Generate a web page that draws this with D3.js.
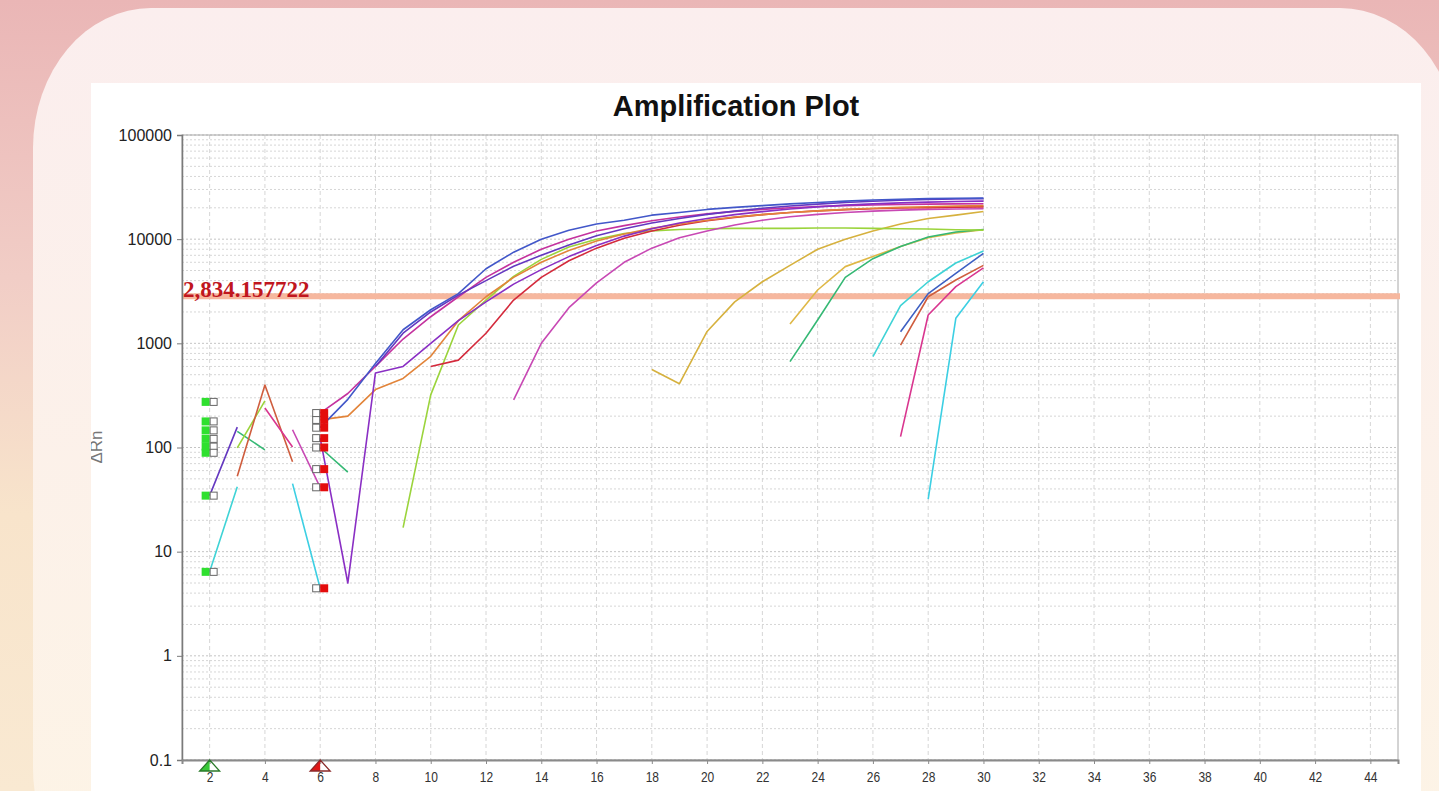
<!DOCTYPE html>
<html>
<head>
<meta charset="utf-8">
<script src="https://cdn.jsdelivr.net/npm/d3@7"></script>
<style>
    html, body { margin: 0; padding: 0; overflow: hidden; }
    svg { display: block; }
    .ytick text { font: 16px "Liberation Sans", Arial, sans-serif; fill: #222; }
    .xtick text { font: 15px "Liberation Sans", Arial, sans-serif; fill: #333; }
    .title { font: bold 29px "Liberation Sans", Arial, sans-serif; fill: #111; }
</style>
</head>
<body>
<script>

    // cycles 2..30, null = no positive value (not drawn on log scale)
    var cycles = [2,3,4,5,6,7,8,9,10,11,12,13,14,15,16,17,18,19,20,21,22,23,24,25,26,27,28,29,30];

    var wellBlue   = [274,null,null,null,155,290,640,1350,2100,3000,5200,7500,10000,12200,14000,15200,17000,18000,19300,20200,21000,21800,22500,23200,23800,24200,24500,24700,24800];
    var wellViolet = [34.5,157,null,null,null,null,600,1250,2000,2900,4000,5500,7000,8800,10800,12600,14300,15800,17300,18600,19800,20800,21700,22500,23100,23600,24000,24300,24500];
    var wellPurple = [146,null,null,null,123,5,520,600,1000,1650,2500,3700,5100,6800,8700,10700,12600,14300,15800,17200,18400,19500,20400,21200,21800,22300,22700,23000,23200];
    var wellOrange = [178,null,null,null,184,200,360,460,750,1650,2800,4300,6000,7800,9600,11200,12700,14000,15200,16300,17200,18000,18700,19300,19800,20200,20500,20800,21000];
    var wellRed    = [121,null,null,null,null,null,null,null,600,690,1250,2600,4300,6200,8200,10200,12000,13600,15000,16200,17200,18000,18700,19200,19600,19900,20100,20300,20400];
    var wellMagenta= [null,null,null,null,214,330,600,1100,1800,2800,4300,6000,8000,10000,12000,13500,15000,16300,17500,18500,19300,20000,20600,21000,21300,21500,21700,21800,21900];
    var wellLime   = [null,99,280,null,null,null,null,17,320,1500,2600,4400,6400,8400,10000,11300,12000,12400,12600,12700,12700,12700,12800,12800,12700,12600,12500,12300,12200];
    var wellTeal   = [null,143,95,null,100,58,null,null,null,null,null,null,null,null,null,null,null,null,null,null,null,667,1675,4300,6500,8500,10500,11700,12400];
    var wellGold   = [null,null,null,null,62,null,null,null,null,null,null,null,null,null,null,null,560,410,1300,2500,3900,5600,8000,10000,12000,14000,15800,17000,18400];
    var wellAmber  = [102,null,null,null,null,null,null,null,null,null,null,null,null,null,null,null,null,null,null,null,null,1535,3250,5450,6800,8500,10300,11500,12300];
    var wellPink   = [null,null,null,148,41.5,null,null,null,null,null,null,286,1000,2200,3800,6000,8200,10300,12000,13700,15200,16400,17300,18000,18600,19000,19300,19500,19600];
    var wellCyan   = [6.4,42,null,null,null,null,null,null,null,null,null,null,null,null,null,null,null,null,null,null,null,null,null,null,745,2300,3900,5900,7700];
    var wellNavy   = [null,null,null,null,null,null,null,null,null,null,null,null,null,null,null,null,null,null,null,null,null,null,null,null,null,1290,3000,4700,7300];
    var wellBrick  = [null,53,398,73,null,null,null,null,null,null,null,null,null,null,null,null,null,null,null,null,null,null,null,null,null,960,2800,4050,5600];
    var wellRose   = [89,null,239,101,null,null,null,null,null,null,null,null,null,null,null,null,null,null,null,null,null,null,null,null,null,127,1870,3500,5300];
    var wellAqua   = [null,null,null,45,4.45,null,null,null,null,null,null,null,null,null,null,null,null,null,null,null,null,null,null,null,null,null,32,1740,3900];

    var xTicks = [2,4,6,8,10,12,14,16,18,20,22,24,26,28,30,32,34,36,38,40,42,44];
    var yTicks = [0.1,1,10,100,1000,10000,100000];
    var yTickLabels = ["0.1","1","10","100","1000","10000","100000"];

    var threshold = 2834.157722;
    var baselineStart = 2, baselineEnd = 6;

    var series = [
        {name: "gold",    color: "#d6b13e", values: wellGold},
        {name: "amber",   color: "#dfb846", values: wellAmber},
        {name: "teal",    color: "#35b874", values: wellTeal},
        {name: "lime",    color: "#9bd43c", values: wellLime},
        {name: "cyan",    color: "#3fd3d6", values: wellCyan},
        {name: "aqua",    color: "#3ccfe3", values: wellAqua},
        {name: "navy",    color: "#3d5fc2", values: wellNavy},
        {name: "brick",   color: "#cf5d3e", values: wellBrick},
        {name: "rose",    color: "#d9368f", values: wellRose},
        {name: "pink",    color: "#c848b4", values: wellPink},
        {name: "red",     color: "#d42a3c", values: wellRed},
        {name: "orange",  color: "#e2843a", values: wellOrange},
        {name: "magenta", color: "#c4329e", values: wellMagenta},
        {name: "purple",  color: "#8a2fc4", values: wellPurple},
        {name: "violet",  color: "#6438c0", values: wellViolet},
        {name: "blue",    color: "#4257c9", values: wellBlue}
    ];

    var width = 1439, height = 791;
    var plotLeft = 182, plotRight = 1398, plotTop = 135, plotBottom = 760;

    var svg = d3.select("body").append("svg")
        .attr("width", width)
        .attr("height", height);

    var defs = svg.append("defs");

    var bgGrad = defs.append("linearGradient").attr("id", "bg")
        .attr("x1", 0).attr("y1", 0).attr("x2", 0).attr("y2", 1);
    bgGrad.append("stop").attr("offset", "0%").attr("stop-color", "#eab6b6");
    bgGrad.append("stop").attr("offset", "35%").attr("stop-color", "#f1cdc6");
    bgGrad.append("stop").attr("offset", "65%").attr("stop-color", "#f8e4cb");
    bgGrad.append("stop").attr("offset", "100%").attr("stop-color", "#f9e9d2");

    var cardGrad = defs.append("linearGradient").attr("id", "card")
        .attr("x1", 0).attr("y1", 0).attr("x2", 0).attr("y2", 1);
    cardGrad.append("stop").attr("offset", "0%").attr("stop-color", "#fbeeee");
    cardGrad.append("stop").attr("offset", "100%").attr("stop-color", "#fdf4e5");

    defs.append("clipPath").attr("id", "imgclip")
        .append("rect").attr("x", 91).attr("y", 83).attr("width", 1330).attr("height", 708);

    defs.append("clipPath").attr("id", "plotclip")
        .append("rect").attr("x", plotLeft).attr("y", plotTop)
        .attr("width", plotRight - plotLeft).attr("height", plotBottom - plotTop);

    // page background and card
    svg.append("rect").attr("width", width).attr("height", height).attr("fill", "url(#bg)");
    svg.append("rect")
        .attr("x", 33).attr("y", 8).attr("width", 1425).attr("height", 900)
        .attr("rx", 118).attr("ry", 140)
        .attr("fill", "url(#card)");

    var chart = svg.append("g").attr("clip-path", "url(#imgclip)");
    chart.append("rect").attr("x", 91).attr("y", 83).attr("width", 1330).attr("height", 708).attr("fill", "#fff");

    var x = d3.scaleLinear().domain([1, 45]).range([plotLeft, plotRight]);
    var y = d3.scaleLog().domain([0.1, 100000]).range([plotBottom, plotTop]);

    // grid
    var grid = chart.append("g");
    grid.selectAll("line.hg")
      .data(y.ticks())
      .enter().append("line")
      .attr("x1", plotLeft).attr("x2", plotRight)
      .attr("y1", function(d) { return y(d); })
      .attr("y2", function(d) { return y(d); })
      .attr("stroke", function(d) { return yTicks.indexOf(d) >= 0 ? "#c4c4c4" : "#d6d6d6"; })
      .attr("stroke-dasharray", "2,2");

    grid.selectAll("line.vg")
      .data(xTicks)
      .enter().append("line")
      .attr("x1", function(d) { return x(d); })
      .attr("x2", function(d) { return x(d); })
      .attr("y1", plotTop).attr("y2", plotBottom)
      .attr("stroke", "#d6d6d6")
      .attr("stroke-dasharray", "4,3");

    // frame
    chart.append("rect")
        .attr("x", plotLeft).attr("y", plotTop)
        .attr("width", plotRight - plotLeft).attr("height", plotBottom - plotTop)
        .attr("fill", "none").attr("stroke", "#a8a8a8").attr("stroke-width", 1);

    // threshold
    chart.append("line")
        .attr("x1", plotLeft).attr("x2", plotRight + 2)
        .attr("y1", y(threshold)).attr("y2", y(threshold))
        .attr("stroke", "#f6b79e").attr("stroke-width", 6);

    // curves
    var line = d3.line()
        .defined(function(d) { return d.v != null && d.v > 0; })
        .x(function(d) { return x(d.c); })
        .y(function(d) { return y(d.v); });

    chart.append("g").attr("clip-path", "url(#plotclip)")
      .selectAll("path")
      .data(series)
      .enter().append("path")
      .attr("d", function(s) { return line(s.values.map(function(v, i) { return {c: cycles[i], v: v}; })); })
      .attr("fill", "none")
      .attr("stroke", function(s) { return s.color; })
      .attr("stroke-width", 1.6)
      .attr("stroke-linejoin", "round");

    // baseline start / end markers
    var sq = 8;
    var marks = chart.append("g");
    series.forEach(function(s) {
        var v0 = s.values[cycles.indexOf(baselineStart)];
        if (v0 != null) {
            var cx = x(baselineStart), cy = y(v0);
            marks.append("rect").attr("x", cx - sq).attr("y", cy - sq / 2).attr("width", sq).attr("height", sq).attr("fill", "#2fe02f");
            marks.append("rect").attr("x", cx + 0.5).attr("y", cy - sq / 2 + 0.5).attr("width", sq - 1).attr("height", sq - 1)
                .attr("fill", "#fff").attr("stroke", "#666").attr("stroke-width", 1);
        }
        var v1 = s.values[cycles.indexOf(baselineEnd)];
        if (v1 != null) {
            var ex = x(baselineEnd), ey = y(v1);
            marks.append("rect").attr("x", ex - sq + 0.5).attr("y", ey - sq / 2 + 0.5).attr("width", sq - 1).attr("height", sq - 1)
                .attr("fill", "#fff").attr("stroke", "#666").attr("stroke-width", 1);
            marks.append("rect").attr("x", ex).attr("y", ey - sq / 2).attr("width", sq).attr("height", sq).attr("fill", "#e40c0c");
        }
    });

    // axes
    var yAxis = d3.axisLeft(y)
        .tickValues(yTicks)
        .tickFormat(function(d, i) { return yTickLabels[i]; })
        .tickSize(5).tickPadding(5);

    var gy = chart.append("g").attr("class", "ytick")
        .attr("transform", "translate(" + plotLeft + ",0)")
        .call(yAxis);
    gy.select(".domain").attr("stroke", "#7a7a7a").attr("stroke-width", 1.5);
    gy.selectAll(".tick line").attr("stroke", "#7a7a7a");

    var xAxis = d3.axisBottom(x).tickValues(xTicks).tickSize(4).tickPadding(7);
    var gx = chart.append("g").attr("class", "xtick")
        .attr("transform", "translate(0," + plotBottom + ")")
        .call(xAxis);
    gx.select(".domain").attr("stroke", "#8a8a8a").attr("stroke-width", 2);
    gx.selectAll(".tick line").attr("stroke", "#8a8a8a");
    gx.selectAll(".tick text").attr("transform", "scale(0.8,1)");

    // baseline triangles on the x axis
    var tri = function(cx, fillCol, edgeCol) {
        var g = chart.append("g");
        g.append("path")
            .attr("d", "M" + cx + "," + plotBottom + "L" + (cx - 10) + "," + (plotBottom + 11) + "L" + cx + "," + (plotBottom + 11) + "Z")
            .attr("fill", fillCol);
        g.append("path")
            .attr("d", "M" + cx + "," + plotBottom + "L" + (cx - 10) + "," + (plotBottom + 11) + "L" + (cx + 10) + "," + (plotBottom + 11) + "Z")
            .attr("fill", "none").attr("stroke", edgeCol).attr("stroke-width", 1.3);
    };
    tri(x(baselineStart), "#38c838", "#2a7a2a");
    tri(x(baselineEnd), "#e01818", "#8a2a2a");

    // threshold label
    chart.append("text")
        .attr("x", plotLeft + 1).attr("y", y(threshold) + 1)
        .style("font", "bold 23px 'Liberation Serif', 'Times New Roman', serif")
        .attr("fill", "#c0161e")
        .text(d3.format(",.6f")(threshold));

    chart.append("text")
        .attr("class", "title")
        .attr("x", 736).attr("y", 116)
        .attr("text-anchor", "middle")
        .text("Amplification Plot");

    chart.append("text")
        .attr("transform", "translate(102,447) rotate(-90)")
        .attr("text-anchor", "middle")
        .style("font", "17px 'Liberation Sans', Arial, sans-serif")
        .attr("fill", "#777")
        .text("ΔRn");

</script>
</body>
</html>
